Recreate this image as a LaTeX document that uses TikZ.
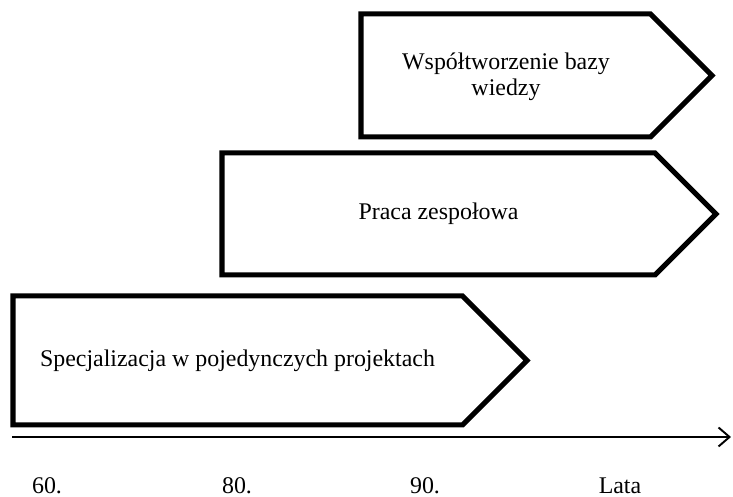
\documentclass[tikz,border=0pt]{standalone}
\usepackage{fontspec}
\setmainfont{Liberation Serif}
\usetikzlibrary{arrows.meta}
\tikzset{
  stage/.style={line width=2.85pt,line join=miter},
  stagetext/.style={align=center,font=\fontsize{13.6pt}{15pt}\selectfont},
  yearlabel/.style={anchor=base,font=\fontsize{13.6pt}{15pt}\selectfont}
}
\begin{document}
\begin{tikzpicture}[line cap=butt]
		\useasboundingbox (0,0) rectangle (14.66,9.94);
		% etapy
		\draw[stage] (7.22,9.66)--(13.01,9.66)--(14.24,8.43)--(13.01,7.20)--(7.22,7.20)--cycle;
		\draw[stage] (4.44,6.88)--(13.10,6.88)--(14.32,5.66)--(13.10,4.44)--(4.44,4.44)--cycle;
		\draw[stage] (0.26,4.02)--(9.25,4.02)--(10.54,2.73)--(9.25,1.44)--(0.26,1.44)--cycle;
		\node[stagetext] (baza) at (10.12,8.40) {Współtworzenie bazy\\wiedzy};
		\node[stagetext] (zespol) at (8.77,5.66) {Praca zespołowa};
		\node[stagetext] (specjal) at (4.75,2.73) {Specjalizacja w pojedynczych projektach};
		% os czasu
		\coordinate (os0) at (0.24,1.20);
		\coordinate (os1) at (14.62,1.20);
		\draw[line width=1.1pt,-{Straight Barb[length=0.22cm,width=0.38cm,line width=1.1pt]}] (os0)--(os1);
		\node[yearlabel] (r60) at (0.94,0.06) {60.};
		\node[yearlabel] (r80) at (4.74,0.06) {80.};
		\node[yearlabel] (r90) at (8.50,0.06) {90.};
		\node[yearlabel] (lata) at (12.40,0.06) {Lata};
	\end{tikzpicture}
\end{document}
